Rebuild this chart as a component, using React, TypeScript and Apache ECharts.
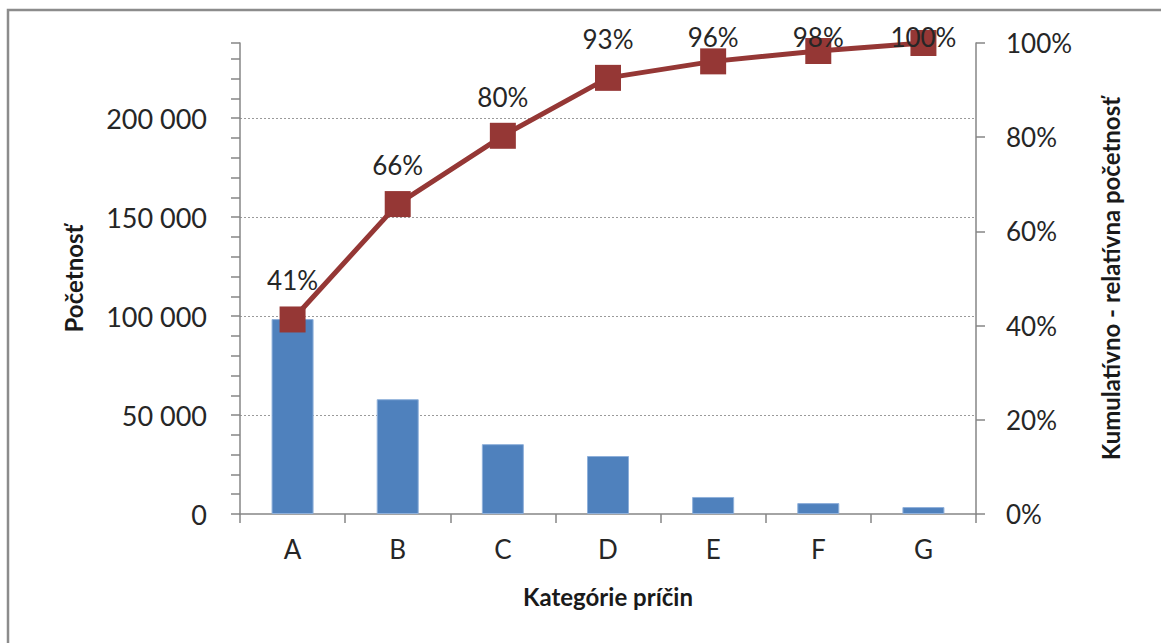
import React, { useEffect, useRef } from "react";
import * as echarts from "echarts";

const categories = ["A", "B", "C", "D", "E", "F", "G"];
const counts = [98500, 58000, 35300, 29300, 8600, 5500, 3500];
const cumulativePct = [41.3, 65.8, 80.3, 92.6, 96.1, 98.3, 100];
const leftMax = 238000;
const leftTicks = [0, 50000, 100000, 150000, 200000];

const FONT = "Lato";

function fmtThousands(v: number): string {
  return String(Math.round(v)).replace(/\B(?=(\d{3})+(?!\d))/g, " ");
}

export default function App() {
  const ref = useRef<HTMLDivElement>(null);
  useEffect(() => {
    if (!ref.current) return;
    const chart = echarts.init(ref.current, null, { renderer: "svg" });
    const axisLineStyle = { color: "#868686", width: 1.5 };
    const option: any = {
      animation: false,
      backgroundColor: "#ffffff",
      textStyle: { fontFamily: FONT },
      graphic: [
        {
          type: "rect",
          shape: { x: 8, y: 10, width: 1300, height: 800 },
          style: { fill: "none", stroke: "#8c8c8c", lineWidth: 2.5 },
          silent: true,
        },
      ],
      grid: { left: 240, right: 185, top: 43, bottom: 129 },
      xAxis: {
        type: "category",
        data: categories,
        boundaryGap: true,
        axisLine: { lineStyle: axisLineStyle },
        axisTick: { show: true, length: 9, lineStyle: axisLineStyle },
        axisLabel: { color: "#262626", fontSize: 26, fontFamily: FONT, margin: 22 },
        name: "Kategórie príčin",
        nameLocation: "middle",
        nameGap: 70,
        nameTextStyle: { color: "#1a1a1a", fontSize: 24, fontWeight: "bold", fontFamily: FONT },
      },
      yAxis: [
        {
          type: "value",
          min: 0,
          max: leftMax,
          interval: 50000,
          position: "left",
          axisLine: { show: true, lineStyle: axisLineStyle },
          axisTick: { show: true, length: 9, lineStyle: axisLineStyle },
          minorTick: { show: true, splitNumber: 5, length: 9, lineStyle: axisLineStyle },
          splitLine: {
            show: true,
            showMinLine: false,
            showMaxLine: false,
            lineStyle: { color: "#9a9a9a", type: [2, 2], width: 1 },
          },
          axisLabel: {
            color: "#262626",
            fontSize: 27,
            fontFamily: FONT,
            margin: 33,
            showMaxLabel: false,
            formatter: (v: number) => (leftTicks.indexOf(v) >= 0 ? fmtThousands(v) : ""),
          },
          name: "Početnosť",
          nameLocation: "middle",
          nameGap: 155,
          nameTextStyle: { color: "#1a1a1a", fontSize: 24, fontWeight: "bold", fontFamily: FONT },
        },
        {
          type: "value",
          min: 0,
          max: 100,
          interval: 20,
          position: "right",
          axisLine: { show: true, lineStyle: axisLineStyle },
          axisTick: { show: true, length: 9, lineStyle: axisLineStyle },
          splitLine: { show: false },
          axisLabel: {
            color: "#262626",
            fontSize: 26,
            fontFamily: FONT,
            margin: 30,
            formatter: (v: number) => v + "%",
          },
          name: "Kumulatívno - relatívna početnosť",
          nameLocation: "middle",
          nameGap: 122,
          nameRotate: 90,
          nameTextStyle: { color: "#1a1a1a", fontSize: 24, fontWeight: "bold", fontFamily: FONT },
        },
      ],
      series: [
        {
          type: "bar",
          data: counts,
          yAxisIndex: 0,
          barWidth: 42,
          itemStyle: { color: "#4F81BD", borderColor: "#8fb0da", borderWidth: 1 },
        },
        {
          type: "line",
          data: cumulativePct,
          yAxisIndex: 1,
          symbol: "rect",
          symbolSize: 26,
          lineStyle: { color: "#953735", width: 5 },
          itemStyle: { color: "#953735" },
          label: {
            show: true,
            position: "top",
            distance: 14,
            color: "#262626",
            fontSize: 26,
            fontFamily: FONT,
            formatter: (p: any) => Math.round(p.value) + "%",
          },
          labelLayout: (p: any) => {
            const r = p.labelRect;
            const cx = p.rect.x + p.rect.width / 2;
            const cy = p.rect.y + p.rect.height / 2 - 39;
            return {
              x: cx,
              y: Math.max(cy, 37),
              align: "center",
              verticalAlign: "middle",
            };
          },
          z: 5,
        },
      ],
    };
    chart.setOption(option);
    return () => chart.dispose();
  }, []);
  return (
    <div
      ref={ref}
      style={{ position: "fixed", left: 0, top: 0, width: 1161, height: 643 }}
    />
  );
}
